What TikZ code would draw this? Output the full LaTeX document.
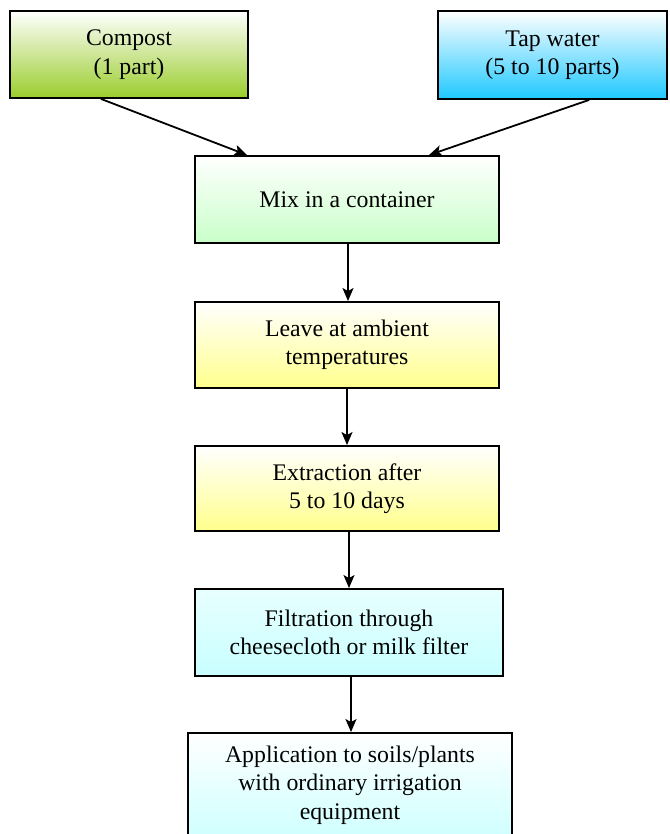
\documentclass[tikz,border=0pt]{standalone}
\usepackage{fontspec}
\setmainfont{Liberation Serif}
\usetikzlibrary{arrows.meta,calc}
\definecolor{cgreen}{RGB}{154,205,45}
\definecolor{cblue}{RGB}{30,200,255}
\definecolor{lgreen}{RGB}{200,255,200}
\definecolor{lyellow}{RGB}{255,255,140}
\definecolor{lcyanA}{RGB}{232,255,255}
\definecolor{lcyan}{RGB}{200,255,255}
\tikzset{
  box/.style={rectangle, draw=black, line width=1.9pt, align=center, inner sep=0pt,
    font=\fontsize{23.8}{28.5}\selectfont, text=black},
  arr/.style={line width=1.8pt, -{Stealth[length=13pt,width=11pt,inset=3pt]}}
}
\begin{document}
\begin{tikzpicture}[x=1pt,y=-1pt]
\useasboundingbox (0,0) rectangle (669,834);
\clip (0,0) rectangle (669,834);
\node[box, minimum width=238pt, minimum height=87pt, top color=white, bottom color=cgreen] (compost) at (129,54.5) {Compost\\(1 part)};
\node[box, minimum width=229pt, minimum height=88pt, top color=white, bottom color=cblue] (tap) at (552.5,55) {Tap water\\(5 to 10 parts)};
\node[box, minimum width=304pt, minimum height=87pt, top color=white, bottom color=lgreen] (mix) at (347,199.5) {Mix in a container};
\node[box, minimum width=304pt, minimum height=86pt, top color=white, bottom color=lyellow] (leave) at (347,345) {Leave at ambient\\temperatures};
\node[box, minimum width=304pt, minimum height=85pt, top color=white, bottom color=lyellow] (extr) at (347,488.5) {Extraction after\\5 to 10 days};
\node[box, minimum width=308pt, minimum height=87pt, top color=lcyanA, bottom color=lcyan] (filt) at (349,632.5) {Filtration through\\cheesecloth or milk filter};
\node[box, minimum width=324pt, minimum height=120pt, top color=white, bottom color=lcyan] (app) at (350,793) {};
\node[font=\fontsize{23.8}{28.5}\selectfont, align=center, anchor=north] (apptext) at (350,742) {Application to soils/plants\\with ordinary irrigation\\equipment};
\draw[arr] ([xshift=92pt]compost.south west) -- ([xshift=53pt]mix.north west);
\draw[arr] ([xshift=152pt]tap.south west) -- ([xshift=-71pt]mix.north east);
\draw[arr] ([xshift=1pt]mix.south) -- ([xshift=1pt]mix.south |- leave.north);
\draw[arr] (leave.south) -- (leave.south |- extr.north);
\draw[arr] ([xshift=2pt]extr.south) -- ([xshift=2pt]extr.south |- filt.north);
\draw[arr] ([xshift=2pt]filt.south) -- ([xshift=2pt]filt.south |- app.north);
\end{tikzpicture}
\end{document}
